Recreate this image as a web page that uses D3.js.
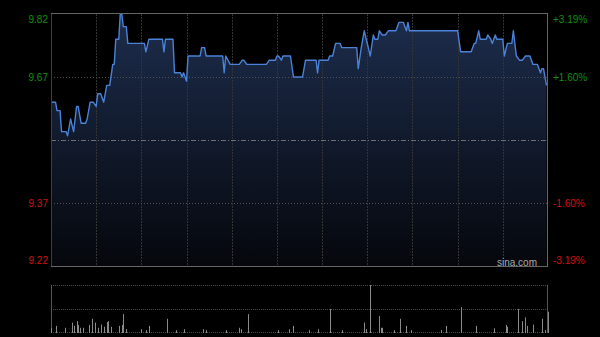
<!DOCTYPE html>
<html>
<head>
<meta charset="utf-8">
<script src="https://cdn.jsdelivr.net/npm/d3@7"></script>
<style>
  html, body { margin: 0; padding: 0; background: #000; }
  svg { display: block; font-family: "Liberation Sans", Arial, sans-serif; }
</style>
</head>
<body>
<div id="chart"></div>
<script>
// price line, minutes after 09:30 (lunch removed, 330 = 16:00)
var minutes = [0, 3, 4, 6, 7, 10, 11, 13, 15, 17, 18, 20, 23, 24, 26, 28, 30, 31, 33, 35, 37, 39, 41, 42, 43, 45, 46, 47, 48, 50, 51, 62, 63, 65, 74, 75, 76, 81, 82, 86, 87, 88, 90, 91, 99, 100, 102, 103, 114, 115, 116, 119, 125, 127, 128, 130, 143, 145, 149, 150, 151, 153, 154, 159, 161, 167, 169, 176, 177, 178, 184, 185, 187, 189, 192, 193, 203, 204, 206, 208, 210, 212, 214, 215, 217, 218, 220, 222, 224, 229, 231, 234, 236, 237, 238, 270, 272, 279, 281, 282, 284, 285, 289, 290, 292, 293, 295, 296, 300, 301, 303, 306, 307, 309, 311, 313, 315, 318, 320, 323, 325, 326, 327, 329];
var prices = [9.61, 9.61, 9.59, 9.59, 9.54, 9.54, 9.53, 9.57, 9.54, 9.60, 9.60, 9.56, 9.56, 9.57, 9.61, 9.61, 9.60, 9.63, 9.63, 9.61, 9.65, 9.65, 9.70, 9.70, 9.76, 9.76, 9.82, 9.82, 9.79, 9.79, 9.75, 9.75, 9.73, 9.76, 9.76, 9.73, 9.76, 9.76, 9.68, 9.68, 9.67, 9.68, 9.66, 9.72, 9.72, 9.74, 9.74, 9.72, 9.72, 9.68, 9.72, 9.70, 9.70, 9.71, 9.71, 9.70, 9.70, 9.71, 9.71, 9.72, 9.72, 9.71, 9.72, 9.72, 9.67, 9.67, 9.71, 9.71, 9.68, 9.71, 9.71, 9.72, 9.72, 9.75, 9.75, 9.74, 9.74, 9.69, 9.74, 9.78, 9.75, 9.72, 9.77, 9.76, 9.76, 9.78, 9.77, 9.77, 9.78, 9.78, 9.80, 9.80, 9.78, 9.80, 9.78, 9.78, 9.73, 9.73, 9.75, 9.75, 9.78, 9.76, 9.76, 9.77, 9.76, 9.75, 9.77, 9.76, 9.76, 9.72, 9.75, 9.75, 9.78, 9.72, 9.71, 9.71, 9.72, 9.72, 9.70, 9.70, 9.68, 9.69, 9.69, 9.65];

// volume bars (relative units, max = 100)
var volMinutes = [0, 3, 9, 14, 15, 17, 18, 19, 21, 25, 27, 29, 31, 33, 35, 37, 38, 40, 45, 47, 48, 50, 60, 63, 65, 77, 83, 88, 101, 103, 116, 125, 126, 131, 151, 158, 161, 171, 177, 185, 193, 208, 209, 212, 218, 219, 220, 228, 232, 236, 239, 259, 262, 272, 282, 294, 302, 303, 310, 313, 315, 316, 320, 326, 328, 330];
var volValues = [9, 13, 9, 20, 13, 23, 15, 9, 9, 15, 28, 20, 9, 16, 11, 21, 23, 11, 13, 15, 38, 6, 6, 4, 13, 28, 4, 6, 6, 4, 4, 9, 6, 38, 4, 6, 13, 4, 6, 49, 4, 20, 6, 100, 34, 9, 9, 4, 28, 13, 4, 4, 13, 53, 13, 8, 15, 11, 49, 23, 31, 13, 16, 28, 4, 43];

var prevClose = 9.52;
var leftTicks = [9.82, 9.67, 9.37, 9.22];
var leftLabels = ["9.82", "9.67", "9.37", "9.22"];
var rightLabels = ["+3.19%", "+1.60%", "-1.60%", "-3.19%"];
var gridMinutes = [30, 60, 90, 120, 150, 180, 210, 240, 270, 300];

var W = 600, H = 337;
var pLeft = 51, pRight = 548, pTop = 14, pBottom = 266;
var vTop = 285, vBottom = 332;

var svg = d3.select("#chart").append("svg")
  .attr("width", W)
  .attr("height", H);

svg.append("rect").attr("width", W).attr("height", H).attr("fill", "#000");

// scales
var x = d3.scaleLinear().domain([0, 330]).range([pLeft, pRight]);
var y = d3.scaleLinear().domain([9.22, 9.82]).range([pBottom, pTop]);
var yv = d3.scaleLinear().domain([0, 100]).range([vBottom, vTop]);

var data = minutes.map(function(m, i) { return {m: m, p: prices[i]}; });

// gradient for the area
var grad = svg.append("defs").append("linearGradient")
  .attr("id", "fill")
  .attr("gradientUnits", "userSpaceOnUse")
  .attr("x1", 0).attr("y1", pTop).attr("x2", 0).attr("y2", pBottom);
grad.append("stop").attr("offset", "0%").attr("stop-color", "#1d2d4d");
grad.append("stop").attr("offset", "100%").attr("stop-color", "#05070c");

var area = d3.area()
  .x(function(d) { return x(d.m); })
  .y0(pBottom)
  .y1(function(d) { return y(d.p); });

svg.append("path")
  .datum(data)
  .attr("d", area)
  .attr("fill", "url(#fill)");

// vertical grid
svg.selectAll(".vgrid")
  .data(gridMinutes)
  .enter().append("line")
  .attr("x1", function(d) { return Math.round(x(d)) + 0.5; })
  .attr("x2", function(d) { return Math.round(x(d)) + 0.5; })
  .attr("y1", pTop).attr("y2", pBottom)
  .attr("stroke", "#333")
  .attr("stroke-dasharray", "2,1");

// horizontal grid
svg.selectAll(".hgrid")
  .data([9.67, 9.37])
  .enter().append("line")
  .attr("x1", pLeft).attr("x2", pRight)
  .attr("y1", function(d) { return Math.round(y(d)) + 0.5; })
  .attr("y2", function(d) { return Math.round(y(d)) + 0.5; })
  .attr("stroke", "#505050")
  .attr("stroke-dasharray", "1,2");

// previous close line
svg.append("line")
  .attr("x1", pLeft).attr("x2", pRight)
  .attr("y1", Math.round(y(prevClose)) + 0.5)
  .attr("y2", Math.round(y(prevClose)) + 0.5)
  .attr("stroke", "#707070")
  .attr("stroke-dasharray", "5,2,1,2");

// price line
var line = d3.line()
  .x(function(d) { return x(d.m); })
  .y(function(d) { return y(d.p); });

svg.append("path")
  .datum(data)
  .attr("d", line)
  .attr("fill", "none")
  .attr("stroke", "#4a82d8")
  .attr("stroke-width", 1.4)
  .attr("stroke-linejoin", "round");

// frame
svg.append("line").attr("x1", pLeft).attr("x2", pRight).attr("y1", pTop - 0.5).attr("y2", pTop - 0.5).attr("stroke", "#666");
svg.append("line").attr("x1", pLeft).attr("x2", pRight).attr("y1", pBottom + 0.5).attr("y2", pBottom + 0.5).attr("stroke", "#666");
svg.append("line").attr("x1", pLeft + 0.5).attr("x2", pLeft + 0.5).attr("y1", pTop).attr("y2", pBottom).attr("stroke", "#3c3c3c");
svg.append("line").attr("x1", pRight - 0.5).attr("x2", pRight - 0.5).attr("y1", pTop).attr("y2", pBottom).attr("stroke", "#666");

// axis labels
svg.selectAll(".lab")
  .data(leftTicks)
  .enter().append("text")
  .attr("x", 48)
  .attr("y", function(d) { return Math.max(19, Math.min(260, y(d))); })
  .attr("dy", "0.35em")
  .attr("text-anchor", "end")
  .attr("font-size", 10)
  .attr("fill", function(d) { return d > prevClose ? "#109010" : "#d01010"; })
  .text(function(d, i) { return leftLabels[i]; });

svg.selectAll(".rlab")
  .data(leftTicks)
  .enter().append("text")
  .attr("x", 553)
  .attr("y", function(d) { return Math.max(19, Math.min(260, y(d))); })
  .attr("dy", "0.35em")
  .attr("font-size", 10)
  .attr("fill", function(d) { return d > prevClose ? "#109010" : "#d01010"; })
  .text(function(d, i) { return rightLabels[i]; });

// watermark
svg.append("text")
  .attr("x", 537).attr("y", 262)
  .attr("dy", "0.35em")
  .attr("text-anchor", "end")
  .attr("font-size", 10)
  .attr("fill", "#a8a8a8")
  .text("sina.com");

// volume panel
[vTop, (vTop + vBottom) / 2, vBottom].forEach(function(v) {
  svg.append("line")
    .attr("x1", pLeft).attr("x2", pRight)
    .attr("y1", Math.round(v) + 0.5).attr("y2", Math.round(v) + 0.5)
    .attr("stroke", "#4a4a4a")
    .attr("stroke-dasharray", "1,1");
});
svg.append("line").attr("x1", pLeft + 0.5).attr("x2", pLeft + 0.5).attr("y1", vTop).attr("y2", vBottom + 1).attr("stroke", "#555");
svg.append("line").attr("x1", pRight - 0.5).attr("x2", pRight - 0.5).attr("y1", vTop).attr("y2", vBottom + 1).attr("stroke", "#555");

svg.selectAll(".vol")
  .data(volMinutes)
  .enter().append("rect")
  .attr("x", function(d) { return Math.round(x(d)); })
  .attr("width", 1)
  .attr("y", function(d, i) { return yv(volValues[i]); })
  .attr("height", function(d, i) { return vBottom + 1 - yv(volValues[i]); })
  .attr("fill", "#8a8a8a");
</script>
</body>
</html>
